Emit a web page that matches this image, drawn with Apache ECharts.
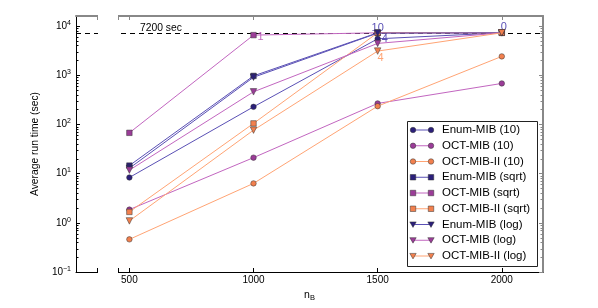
<!DOCTYPE html>
<html><head><meta charset="utf-8">
<script src="https://cdn.jsdelivr.net/npm/echarts@6/dist/echarts.min.js"></script>
<style>html,body{margin:0;padding:0;background:#fff}#c{width:598px;height:308px}</style>
</head><body><div id="c"></div>
<script>
// ---- data ----
const nB = [500, 1000, 1500, 2000];
const xTickValues = [500, 1000, 1500, 2000];
const yTickValues = [0.1, 1, 10, 100, 1000, 10000];
const timeLimit = 7200;
const timeLimitText = '7200 sec';
const enum10    = [8.3, 226, 5440, 7200];
const oct10     = [1.85, 21, 265, 675];
const octII10   = [0.46, 6.3, 233, 2390];
const enumSqrt  = [14.5, 960, 7200, 7200];
const octSqrt   = [67, 6470, 7200, 7200];
const octIISqrt = [1.66, 104, 7200, 7200];
const enumLog   = [12.8, 900, 7100, 7200];
const octLog    = [11.7, 456, 4385, 7200];
const octIILog  = [1.09, 76, 3062, 7200];
const seriesNames = ['Enum-MIB (10)', 'OCT-MIB (10)', 'OCT-MIB-II (10)',
  'Enum-MIB (sqrt)', 'OCT-MIB (sqrt)', 'OCT-MIB-II (sqrt)',
  'Enum-MIB (log)', 'OCT-MIB (log)', 'OCT-MIB-II (log)'];
const seriesValues = [enum10, oct10, octII10, enumSqrt, octSqrt, octIISqrt, enumLog, octLog, octIILog];
// annotations: [series name, point index, text]
const pointNotes = [
  ['OCT-MIB (sqrt)', 1, '1'],
  ['Enum-MIB (sqrt)', 2, '10'],
  ['Enum-MIB (10)', 2, '4'],
  ['OCT-MIB-II (log)', 2, '4'],
  ['Enum-MIB (sqrt)', 3, '0']
];
const minorMultipliers = [2, 3, 4, 5, 6, 7, 8, 9];
const minorDecades = [0.1, 1, 10, 100, 1000, 10000];

// ---- style ----
const FONT = '"Liberation Sans", Arial, sans-serif';
const markerColors = ['#2b1f7a', '#9b3c98', '#f2804e'];
const lineColors   = ['#5a50b5', '#c266c0', '#ffa474'];
const symbols = ['circle', 'rect', 'triangle'];
const symbolSizes = [5.5, 5.5, 6.5];
const notePlacement = [
  {position: 'right', distance: 1, offset: [0, 2]},
  {position: 'inside', offset: [0, -5]},
  {position: 'right', distance: 1, offset: [0, 0]},
  {position: 'inside', offset: [3, 7]},
  {position: 'inside', offset: [2, -6]}
];
const X_MIN = 285, X_MAX = 2166, Y_MIN = 0.1, Y_MAX = 15800;

const chart = echarts.init(document.getElementById('c'), null, {renderer: 'canvas'});

function supFmt(v) {
  const e = Math.round(Math.log10(v));
  return '{b|10}{s|' + (e < 0 ? '\u2212' + (-e) : e) + '}';
}

const series = seriesValues.map((vals, i) => {
  const c = i % 3, s = Math.floor(i / 3);
  const name = seriesNames[i];
  const data = vals.map((v, k) => {
    const item = {value: [nB[k], v]};
    pointNotes.forEach((n, j) => {
      if (n[0] === name && n[1] === k) {
        item.label = Object.assign({show: true, formatter: n[2], color: lineColors[c],
          fontSize: 11, fontFamily: FONT}, notePlacement[j]);
      }
    });
    return item;
  });
  return {
    type: 'line', name: name, data: data, z: 3 + i,
    symbol: symbols[s], symbolSize: symbolSizes[s], symbolRotate: s === 2 ? 180 : 0,
    showAllSymbol: true, animation: false,
    lineStyle: {color: lineColors[c], width: 1},
    itemStyle: {color: markerColors[c], borderColor: '#333', borderWidth: 0.5},
    label: {show: false}
  };
});

// dashed time limit line
series[0].markLine = {
  silent: true, symbol: 'none', animation: false,
  data: [{yAxis: timeLimit}],
  lineStyle: {color: '#000', type: [5, 4], width: 1},
  label: {show: true, formatter: timeLimitText, position: 'insideStartTop', distance: [64, 0],
    color: '#000', fontSize: 10.3, fontFamily: FONT}
};

// minor log ticks
const minorVals = [];
minorDecades.forEach(d => minorMultipliers.forEach(m => { const v = d * m; if (v > Y_MIN && v < Y_MAX) minorVals.push([X_MIN, v]); }));
series.push({
  type: 'custom', silent: true, animation: false, z: 1,
  data: minorVals,
  renderItem: function (params, api) {
    const p = api.coord([api.value(0), api.value(1)]);
    const cs = params.coordSys;
    const y = Math.round(p[1]) + 0.5;
    return {type: 'group', children: [
      {type: 'line', shape: {x1: cs.x, y1: y, x2: cs.x + 2.5, y2: y}, style: {stroke: '#000', lineWidth: 1}},
      {type: 'line', shape: {x1: cs.x + cs.width - 2.5, y1: y, x2: cs.x + cs.width, y2: y}, style: {stroke: '#888', lineWidth: 1}}
    ]};
  }
});

// legend drawn as graphic
const legendEls = [{type: 'rect', z: 200, shape: {x: 407.5, y: 121.5, width: 130, height: 145},
  style: {fill: '#fff', stroke: '#222', lineWidth: 1}}];
function legendMarker(s, cx, cy, fill) {
  const st = {fill: fill, stroke: '#333', lineWidth: 0.5};
  if (s === 0) return {type: 'circle', z: 202, shape: {cx: cx, cy: cy, r: 2.75}, style: st};
  if (s === 1) return {type: 'rect', z: 202, shape: {x: cx - 2.75, y: cy - 2.75, width: 5.5, height: 5.5}, style: st};
  return {type: 'polygon', z: 202, shape: {points: [[cx - 3.2, cy - 2.6], [cx + 3.2, cy - 2.6], [cx, cy + 2.9]]}, style: st};
}
seriesNames.forEach((name, i) => {
  const c = i % 3, s = Math.floor(i / 3);
  const y = 130 + i * 15.75;
  legendEls.push({type: 'line', z: 201, shape: {x1: 413, y1: y, x2: 431, y2: y}, style: {stroke: lineColors[c], lineWidth: 1}});
  legendEls.push(legendMarker(s, 413, y, markerColors[c]));
  legendEls.push(legendMarker(s, 431, y, markerColors[c]));
  legendEls.push({type: 'text', z: 202, x: 442, y: y,
    style: {text: name, fill: '#000', font: '11.5px ' + FONT, verticalAlign: 'middle', align: 'left'}});
});
// axis break: white gap + end ticks
const breakEls = [
  {type: 'rect', z: 150, shape: {x: 98, y: 10, width: 20, height: 266}, style: {fill: '#fff'}},
  {type: 'line', z: 151, shape: {x1: 97.5, y1: 16, x2: 97.5, y2: 20}, style: {stroke: '#888', lineWidth: 1}},
  {type: 'line', z: 151, shape: {x1: 118.5, y1: 16, x2: 118.5, y2: 20}, style: {stroke: '#888', lineWidth: 1}},
  {type: 'line', z: 151, shape: {x1: 97.5, y1: 268, x2: 97.5, y2: 272}, style: {stroke: '#000', lineWidth: 1}},
  {type: 'line', z: 151, shape: {x1: 118.5, y1: 268, x2: 118.5, y2: 272}, style: {stroke: '#000', lineWidth: 1}}
];

const option = {
  animation: false,
  backgroundColor: '#fff',
  grid: {left: 76, right: 55, top: 16, bottom: 36, containLabel: false},
  xAxis: [
    {type: 'value', min: X_MIN, max: X_MAX, position: 'bottom',
      name: '{n|n}{b|B}', nameLocation: 'middle', nameGap: 16,
      nameTextStyle: {rich: {
        n: {fontSize: 10.5, fontFamily: FONT, color: '#000', lineHeight: 14, verticalAlign: 'middle'},
        b: {fontSize: 7.5, fontFamily: FONT, color: '#000', lineHeight: 14, verticalAlign: 'bottom'}}},
      axisLine: {show: true, lineStyle: {color: '#000', width: 1}},
      axisTick: {show: true, inside: true, length: 4, customValues: xTickValues, lineStyle: {color: '#000'}},
      axisLabel: {show: true, customValues: xTickValues, margin: 3, fontSize: 10, fontFamily: FONT, color: '#000',
        formatter: function (v) { return String(Math.round(v)); }},
      splitLine: {show: false}},
    {type: 'value', min: X_MIN, max: X_MAX, position: 'top',
      axisLine: {show: true, lineStyle: {color: '#888', width: 2}},
      axisTick: {show: true, inside: true, length: 4, customValues: xTickValues, lineStyle: {color: '#888'}},
      axisLabel: {show: false}, splitLine: {show: false}}
  ],
  yAxis: [
    {type: 'log', logBase: 10, min: Y_MIN, max: Y_MAX, position: 'left',
      name: 'Average run time (sec)', nameLocation: 'middle', nameGap: 36, nameRotate: 90,
      nameTextStyle: {fontSize: 10.3, fontFamily: FONT, color: '#000'},
      axisLine: {show: true, lineStyle: {color: '#000', width: 1}},
      axisTick: {show: true, inside: true, length: 4, lineStyle: {color: '#000'}},
      axisLabel: {show: true, margin: 5, showMaxLabel: false, formatter: supFmt,
        rich: {b: {fontSize: 10, fontFamily: FONT, color: '#000', lineHeight: 13, verticalAlign: 'middle'},
               s: {fontSize: 7, fontFamily: FONT, color: '#000', lineHeight: 13, verticalAlign: 'top'}}},
      splitLine: {show: false}, minorTick: {show: false}},
    {type: 'log', logBase: 10, min: Y_MIN, max: Y_MAX, position: 'right',
      axisLine: {show: true, lineStyle: {color: '#888', width: 2}},
      axisTick: {show: true, inside: true, length: 4, lineStyle: {color: '#888'}},
      axisLabel: {show: false}, splitLine: {show: false}}
  ],
  series: series,
  graphic: {elements: breakEls.concat(legendEls)}
};
chart.setOption(option);
</script>
</body></html>
